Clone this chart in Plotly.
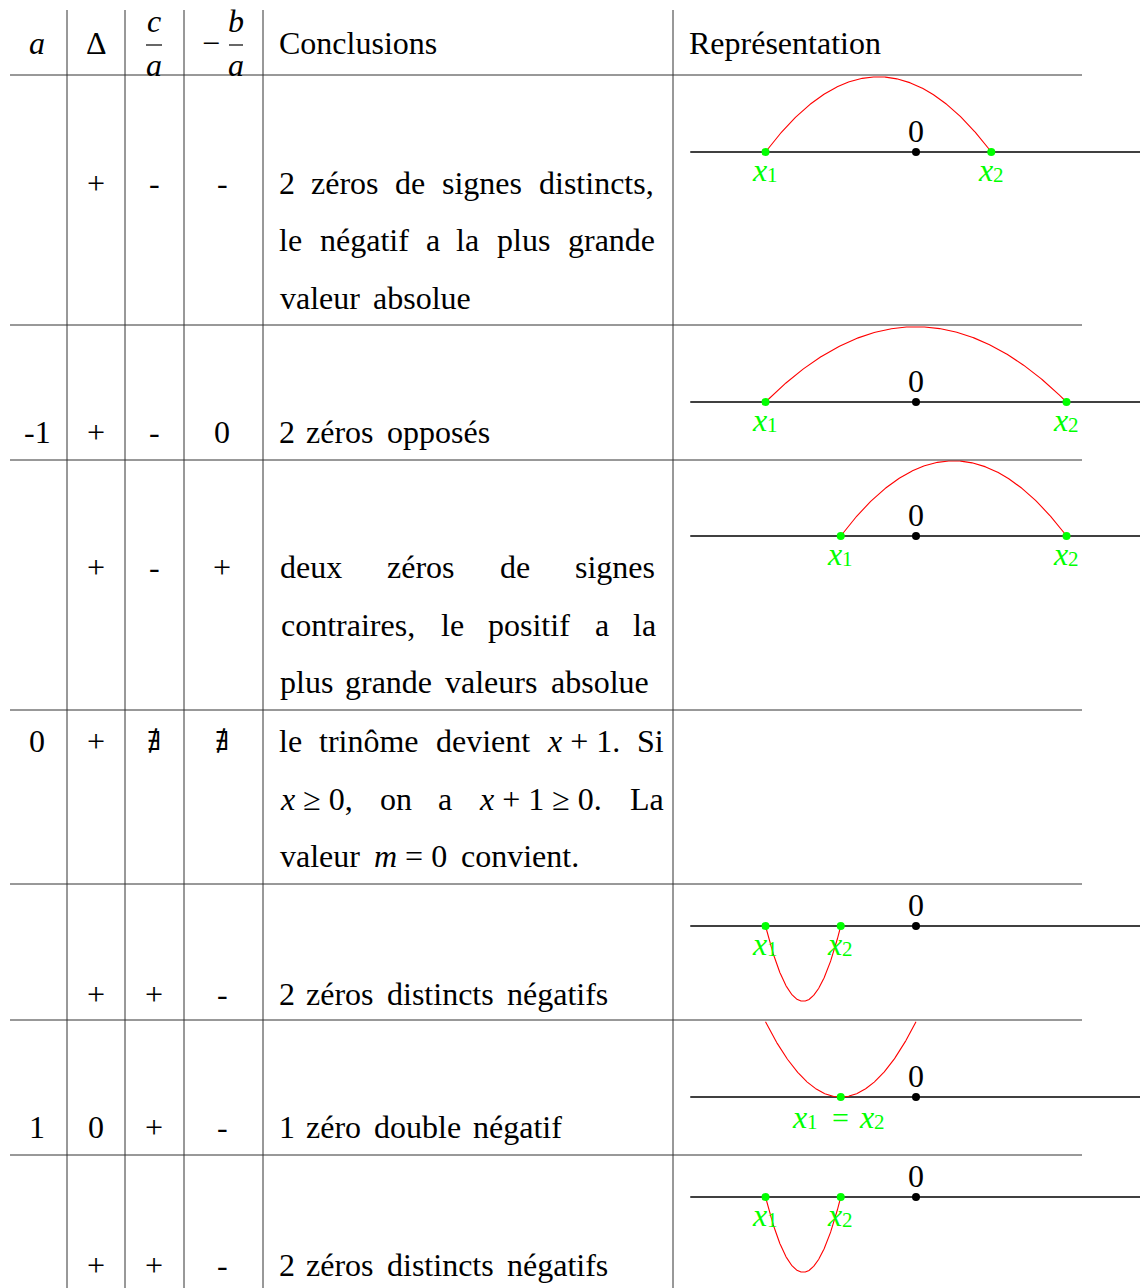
import re
import numpy as np
import plotly.graph_objects as go

# ---------------- data ----------------
col_a = ["", "-1", "", "0", "", "1", ""]
col_delta = ["+", "+", "+", "+", "+", "0", "+"]
col_c_over_a = ["-", "-", "-", "∄", "+", "+", "+"]
col_minus_b_over_a = ["-", "0", "+", "∄", "-", "-", "-"]

# conclusions: each line = (tokens, justified)
conclusions = [
    [(["2", "zéros", "de", "signes", "distincts,"], True),
     (["le", "négatif", "a", "la", "plus", "grande"], True),
     (["valeur", "absolue"], False)],
    [(["2", "zéros", "opposés"], False)],
    [(["deux", "zéros", "de", "signes"], True),
     (["contraires,", "le", "positif", "a", "la"], True),
     (["plus", "grande", "valeurs", "absolue"], False)],
    [(["le", "trinôme", "devient", "<i>x</i> + 1.", "Si"], True),
     (["<i>x</i> ≥ 0,", "on", "a", "<i>x</i> + 1 ≥ 0.", "La"], True),
     (["valeur", "<i>m</i> = 0", "convient."], False)],
    [(["2", "zéros", "distincts", "négatifs"], False)],
    [(["1", "zéro", "double", "négatif"], False)],
    [(["2", "zéros", "distincts", "négatifs"], False)],
]

header_labels = ["Conclusions", "Représentation"]

# representation: roots, parabola coefficient y = k (x - r1)(x - r2), plotted domain
rep_root1 = [-2, -2, -1, None, -2, -1, -2]
rep_root2 = [1, 2, 2, None, -1, -1, -1]
rep_coef = [-0.444, -0.25, -0.444, None, 4.0, 1.0, 4.0]
rep_from = [-2, -2, -1, None, -2, -2, -2]
rep_to = [1, 2, 2, None, -1, 0, -1]
rep_axis_from = -3
rep_axis_to = 3

# ---------------- layout constants (pixels) ----------------
W_PX, H_PX = 1140, 1288
U = 75.25          # px per unit in the representation
ZERO_PX = 916      # pixel x of 0 on the number lines
row_lines = [75, 325, 460, 710, 884, 1020, 1155]
vlines = [67, 125, 184, 263, 673]
table_left, table_right, table_top = 10, 1082, 10
col_centers = [37, 96, 154, 222]
text_left = 279
text_right = [656, 656, 656, 664, 656, 656, 656]
row_text_y = [[183, 240, 298], [432], [567, 625, 682], [741, 799, 856],
              [994], [1127], [1265]]
axis_px = [152, 402, 536, None, 926, 1097, 1197]

FONT = "Liberation Serif"
FS = 32
LINE_COL = "#333333"
GREEN = "#00ff00"

# Times-like glyph widths (1/1000 em) for word placement
GW = {' ': 250, ',': 250, '.': 250, '-': 333, '+': 564, '=': 564, '≥': 549,
      'a': 444, 'b': 500, 'c': 444, 'd': 500, 'e': 444, 'f': 333, 'g': 500,
      'h': 500, 'i': 278, 'j': 278, 'k': 500, 'l': 278, 'm': 778, 'n': 500,
      'o': 500, 'p': 500, 'q': 500, 'r': 333, 's': 389, 't': 278, 'u': 500,
      'v': 500, 'w': 722, 'x': 500, 'y': 500, 'z': 444, 'é': 444, 'ô': 500,
      'S': 556, 'L': 611}
SCALE = 0.033
SPACE = 10


def tok_width(t):
    s = re.sub(r"<[^>]+>", "", t)
    return sum(GW.get(ch, 500) for ch in s) * SCALE


def place_line(tokens, left, right, justify):
    widths = [tok_width(t) for t in tokens]
    if justify and len(tokens) > 1:
        gap = (right - left - sum(widths)) / (len(tokens) - 1)
    else:
        gap = SPACE
    xs, x = [], left
    for w in widths:
        xs.append(x + w / 2)
        x += w + gap
    return xs


fig = go.Figure()
shapes = []
annotations = []

# table lines
for y in row_lines:
    shapes.append(dict(type="line", xref="x", yref="y", x0=table_left, x1=table_right,
                       y0=y, y1=y, line=dict(color=LINE_COL, width=1)))
for x in vlines:
    shapes.append(dict(type="line", xref="x", yref="y", x0=x, x1=x,
                       y0=table_top, y1=H_PX + 2, line=dict(color=LINE_COL, width=1)))


def ann(text, x, y, xanchor="center", size=FS, color="black", xref="x", yref="y",
        yshift=0, xshift=0, family=FONT):
    annotations.append(dict(text=text, x=x, y=y, xref=xref, yref=yref, showarrow=False,
                            xanchor=xanchor, yanchor="middle", yshift=yshift, xshift=xshift,
                            borderpad=0,
                            font=dict(family=family, size=size, color=color)))


def root_label(parts, x, base):
    # parts: list of (text, xshift, yshift, size)
    for t, dx, dy, sz in parts:
        ann(t, x, base, xref="x2", yref="y2", xshift=dx, yshift=dy, size=sz, color=GREEN)


# header
ann("<i>a</i>", col_centers[0], 43)
ann("Δ", col_centers[1], 43)
ann("<i>c</i>", col_centers[2], 21)
ann("<i>a</i>", col_centers[2], 65)
shapes.append(dict(type="line", xref="x", yref="y", x0=146, x1=162, y0=45, y1=45,
                   line=dict(color="black", width=1.2)))
ann("−", 211, 43)
ann("<i>b</i>", 236, 21)
ann("<i>a</i>", 236, 65)
shapes.append(dict(type="line", xref="x", yref="y", x0=229, x1=243, y0=45, y1=45,
                   line=dict(color="black", width=1.2)))
ann(header_labels[0], text_left - 1, 43, xanchor="left")
ann(header_labels[1], 688, 43, xanchor="left")

# body cells
for i in range(7):
    y0 = row_text_y[i][0]
    for c, col in enumerate([col_a, col_delta, col_c_over_a, col_minus_b_over_a]):
        v = col[i]
        if v == "∄":
            ann(v, col_centers[c], y0, size=26, family="DejaVu Serif")
        elif v:
            ann(v, col_centers[c], y0)
    for li, (tokens, just) in enumerate(conclusions[i]):
        xs = place_line(tokens, text_left, text_right[i], just)
        for t, xc in zip(tokens, xs):
            ann(t, xc, row_text_y[i][li])

# representation on its own (math-unit) axes
for i in range(7):
    if axis_px[i] is None:
        continue
    base = -axis_px[i] / U
    # number line
    fig.add_trace(go.Scatter(x=[rep_axis_from, rep_axis_to], y=[base, base],
                             mode="lines", line=dict(color="black", width=1.3),
                             xaxis="x2", yaxis="y2", hoverinfo="skip", showlegend=False))
    # parabola
    xs = np.linspace(rep_from[i], rep_to[i], 300)
    ys = base + rep_coef[i] * (xs - rep_root1[i]) * (xs - rep_root2[i])
    fig.add_trace(go.Scatter(x=xs, y=ys, mode="lines", line=dict(color="red", width=1.1),
                             xaxis="x2", yaxis="y2", hoverinfo="skip", showlegend=False))
    # zero point
    fig.add_trace(go.Scatter(x=[0], y=[base], mode="markers",
                             marker=dict(color="black", size=8),
                             xaxis="x2", yaxis="y2", hoverinfo="skip", showlegend=False))
    ann("0", 0, base, xref="x2", yref="y2", yshift=21)
    # roots
    roots = [rep_root1[i]] if rep_root1[i] == rep_root2[i] else [rep_root1[i], rep_root2[i]]
    fig.add_trace(go.Scatter(x=roots, y=[base] * len(roots), mode="markers",
                             marker=dict(color=GREEN, size=8),
                             xaxis="x2", yaxis="y2", hoverinfo="skip", showlegend=False))
    if len(roots) == 1:
        root_label([("<i>x</i>", -41, -20, 32), ("1", -28, -25, 21), ("=", 0, -20, 30),
                    ("<i>x</i>", 26, -20, 32), ("2", 39, -25, 21)], roots[0], base)
    else:
        for k, r in enumerate(roots):
            root_label([("<i>x</i>", -6, -18, 32), (str(k + 1), 7, -23, 21)], r, base)

fig.update_layout(
    width=W_PX, height=H_PX,
    margin=dict(l=0, r=0, t=0, b=0),
    paper_bgcolor="white", plot_bgcolor="white",
    showlegend=False,
    xaxis=dict(range=[0, W_PX], visible=False, fixedrange=True),
    yaxis=dict(range=[H_PX, 0], visible=False, fixedrange=True),
    xaxis2=dict(range=[-ZERO_PX / U, (W_PX - ZERO_PX) / U], overlaying="x",
                visible=False, fixedrange=True),
    yaxis2=dict(range=[-H_PX / U, 0], overlaying="y", visible=False, fixedrange=True),
    shapes=shapes,
    annotations=annotations,
)

fig.write_html("out.html", config={"displayModeBar": False},
               post_script="document.body.style.margin='0';")
